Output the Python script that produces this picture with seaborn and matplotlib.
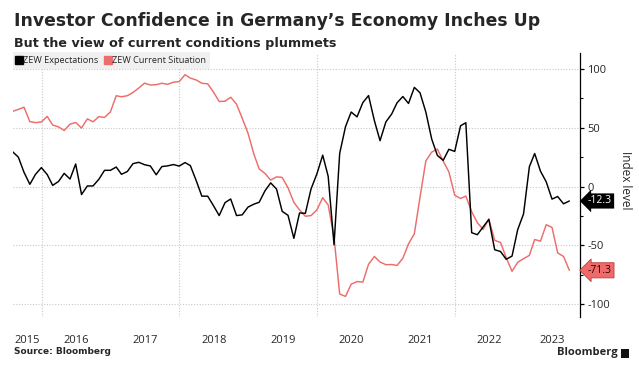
import numpy as np
import pandas as pd
import matplotlib
matplotlib.use("Agg")
import matplotlib.pyplot as plt
from matplotlib.lines import Line2D
from matplotlib.patches import Rectangle
import seaborn as sns

# ---------------- data (monthly, Jul 2015 - Aug 2023) ----------------
START_MONTH = "2015-07-01"
SERIES_NAMES = ["ZEW Expectations", "ZEW Current Situation"]
expectations = [
    29.7, 25.0, 12.1, 1.9, 10.4, 16.1,
    10.2, 1.0, 4.3, 11.2, 6.4, 19.2, -6.8, 0.5, 0.5, 6.2, 13.8, 13.8,
    16.6, 10.4, 12.8, 19.5, 20.6, 18.6, 17.5, 10.0, 17.0, 17.6, 18.7, 17.4,
    20.4, 17.8, 5.1, -8.2, -8.2, -16.1, -24.7, -13.7, -10.6, -24.7, -24.1, -17.5,
    -15.0, -13.4, -3.6, 3.1, -2.1, -21.1, -24.5, -44.1, -22.5, -22.8, -2.1, 10.7,
    26.7, 8.7, -49.5, 28.2, 51.0, 63.4, 59.3, 71.5, 77.4, 56.1, 39.0, 55.0,
    61.8, 71.2, 76.6, 70.7, 84.4, 79.8, 63.3, 40.4, 26.5, 22.3, 31.7, 29.9,
    51.7, 54.3, -39.3, -41.0, -34.3, -28.0, -53.8, -55.3, -61.9, -59.2, -36.7, -23.3,
    16.9, 28.1, 13.0, 4.1, -10.7, -8.5, -14.7, -12.3,
]
current = [
    63.9, 65.7, 67.5, 55.2, 54.4, 55.0,
    59.7, 52.3, 50.8, 47.7, 53.1, 54.5, 49.8, 57.6, 55.1, 59.5, 58.8, 63.5,
    77.3, 76.4, 77.3, 80.1, 83.9, 88.0, 86.4, 86.7, 87.9, 87.0, 88.8, 89.3,
    95.2, 92.3, 90.7, 87.9, 87.4, 80.6, 72.4, 72.6, 76.0, 70.1, 58.2, 45.3,
    27.6, 15.0, 11.1, 5.5, 8.2, 7.8, -1.1, -13.5, -19.9, -25.3, -24.7, -19.9,
    -9.5, -15.7, -43.1, -91.5, -93.5, -83.1, -80.9, -81.3, -66.2, -59.5, -64.3, -66.5,
    -66.4, -67.2, -61.0, -48.8, -40.1, -9.1, 21.9, 29.3, 31.9, 21.6, 12.5, -7.4,
    -10.2, -8.1, -21.4, -30.8, -36.5, -27.6, -45.8, -47.6, -60.5, -72.2, -64.5, -61.4,
    -58.6, -45.1, -46.5, -32.5, -34.8, -56.5, -59.5, -71.3,
]
year_labels = ["2015", "2016", "2017", "2018", "2019", "2020", "2021", "2022", "2023"]
grid_years = ["2016", "2018", "2020", "2022"]
y_ticks = [100, 50, 0, -50, -100]
y_tick_labels = ["100", "50", "0", "-50", "-100"]
y_minor = [75, 25, -25, -75]

dates = pd.date_range(START_MONTH, periods=len(expectations), freq="MS") + pd.offsets.MonthEnd(0)
df = pd.DataFrame({
    "date": np.concatenate([dates, dates]),
    "value": expectations + current,
    "series": [SERIES_NAMES[0]] * len(expectations) + [SERIES_NAMES[1]] * len(current),
})

BLACK = "#000000"
RED = "#ec6d6b"
palette = {SERIES_NAMES[0]: BLACK, SERIES_NAMES[1]: RED}

# ---------------- figure ----------------
sns.set_style("white")
plt.rcParams["font.family"] = ["DejaVu Sans"]
W, H = 639, 370
fig = plt.figure(figsize=(W / 100, H / 100), dpi=100)
L, R, T, B = 12.7, 580.3, 53.3, 317.3
ax = fig.add_axes([L / W, 1 - B / H, (R - L) / W, (B - T) / H])

xmin = pd.Timestamp("2015-08-01")
xmax = pd.Timestamp("2023-10-28")

# grid lines
for yv in y_ticks:
    ax.axhline(yv, color="#c8c8c8", lw=0.8, ls=(0, (1, 1.5)), zorder=0)
for gy in grid_years:
    ax.axvline(pd.Timestamp(gy + "-01-01"), color="#c8c8c8", lw=0.8, ls=(0, (1, 1.5)), zorder=0)

sns.lineplot(data=df, x="date", y="value", hue="series", palette=palette,
             hue_order=SERIES_NAMES[::-1], legend=False, ax=ax, lw=1.05)

ax.set_xlim(xmin, xmax)
ax.set_ylim(-111.3, 113.4)

# spines
for s in ["left", "top", "bottom"]:
    ax.spines[s].set_visible(False)
ax.spines["right"].set_color("black")
ax.spines["right"].set_linewidth(0.9)

# y axis on right
ax.yaxis.tick_right()
ax.yaxis.set_label_position("right")
ax.set_yticks(y_ticks)
ax.set_yticklabels(y_tick_labels, fontfamily="Open Sans", fontsize=8)
ax.set_yticks(y_minor, minor=True)
ax.tick_params(axis="y", which="major", length=3, width=0.9, pad=2, color="black")
ax.tick_params(axis="y", which="minor", length=2, width=0.8, color="black")
ax.set_ylabel("")
fig.text(625 / W, 1 - 180 / H, "Index level", rotation=270, fontfamily="Open Sans", fontsize=8.5,
         ha="center", va="center")

# x labels centred on visible part of each year
xpos = []
for y in year_labels:
    a = max(pd.Timestamp(y + "-01-01"), xmin)
    b = min(pd.Timestamp(str(int(y) + 1) + "-01-01"), xmax)
    xpos.append(a + (b - a) / 2)
ax.set_xticks(xpos)
ax.set_xticklabels(year_labels, fontfamily="Open Sans", fontsize=8)
ax.tick_params(axis="x", length=0, pad=13)
ax.set_xlabel("")

# legend
handles = [Line2D([], [], marker="s", ls="none", color=palette[n], markersize=5.5) for n in SERIES_NAMES]
leg = ax.legend(handles, SERIES_NAMES, loc="upper left", bbox_to_anchor=(0, 1.005), ncol=2,
                frameon=True, fancybox=False, borderaxespad=0, handlelength=0.5, handletextpad=0.2,
                columnspacing=0.8, borderpad=0.45, prop={"family": "Open Sans", "size": 6.6})
leg.get_frame().set_facecolor("#f0f0f0")
leg.get_frame().set_edgecolor("none")
leg.get_frame().set_alpha(1)

# end-value tags
ax.annotate(f"{expectations[-1]:.1f}", xy=(1, expectations[-1]), xycoords=("axes fraction", "data"),
            xytext=(5.5, 0), textcoords="offset points", ha="left", va="center",
            fontsize=7.5, fontfamily="Open Sans", color="white",
            bbox=dict(boxstyle="larrow,pad=0.2", fc="black", ec="none"), annotation_clip=False)
ax.annotate(f"{current[-1]:.1f}", xy=(1, current[-1]), xycoords=("axes fraction", "data"),
            xytext=(5.5, 0), textcoords="offset points", ha="left", va="center",
            fontsize=7.5, fontfamily="Open Sans", color="#2a0000",
            bbox=dict(boxstyle="larrow,pad=0.2", fc="#f06a6a", ec="#b54040", lw=0.6), annotation_clip=False)

# titles
title = fig.text(14 / W, 1 - 21 / H, "Investor Confidence in Germany\u2019s Economy Inches Up",
                 fontsize=14, fontweight="bold", va="center", ha="left")
sub = fig.text(14 / W, 1 - 44 / H, "But the view of current conditions plummets",
               fontsize=10, fontweight="bold", va="center", ha="left")
fig.text(14 / W, 1 - 352 / H, "Source: Bloomberg", fontsize=6.5, fontweight="bold", va="center", ha="left")
fig.text(618 / W, 1 - 353 / H, "Bloomberg", fontsize=8, fontweight="bold", va="center", ha="right",
         fontfamily="Open Sans")
fig.patches.append(Rectangle((621 / W, 1 - 357.5 / H), 8 / W, 9 / H, transform=fig.transFigure,
                             fc="#111111", ec="none"))

# fit title widths
fig.canvas.draw()
r = fig.canvas.get_renderer()
for t, target in [(title, 526), (sub, 322)]:
    w = t.get_window_extent(r).width
    t.set_fontsize(t.get_fontsize() * target / w)

fig.savefig("out.png", dpi=100)
